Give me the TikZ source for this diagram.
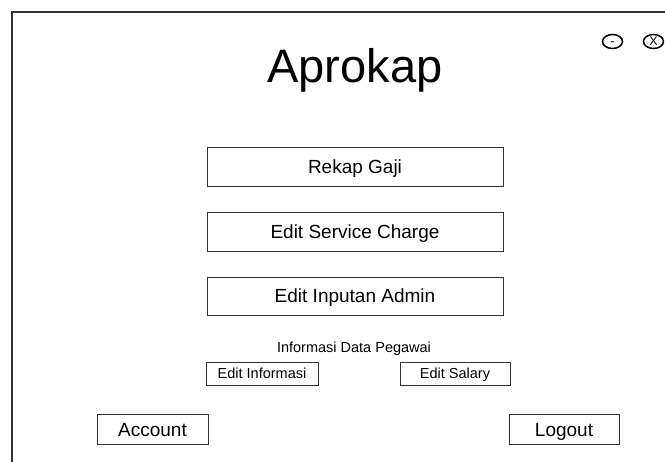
\documentclass[tikz,border=0pt]{standalone}
\usepackage{fontspec}
\setmainfont{Liberation Sans}
\usetikzlibrary{shapes.geometric}
\begin{document}
\begin{tikzpicture}[x=1pt,y=-1pt,
  btn/.style={draw=black!80,line width=0.9pt,minimum height=#1,inner sep=0pt,text depth=0pt},
  bigtxt/.style={font=\fontsize{19}{19}\selectfont,text height=13.6pt},
  smalltxt/.style={font=\fontsize{14.5}{14.5}\selectfont,text height=10.4pt},
  frameline/.style={draw=black!80,line width=2pt},
  winbtn/.style={draw=black,line width=1.5pt,ellipse,minimum width=20pt,minimum height=14pt,inner sep=0pt,text height=9pt,text depth=0pt,font=\fontsize{12.5}{12.5}\selectfont}]
\useasboundingbox (0,0) rectangle (665,462);
\fill[white] (0,0) rectangle (665,462);
\coordinate (fbl) at (12,462);
\coordinate (ftl) at (12,12);
\coordinate (ftr) at (665,12);
\draw[frameline] (fbl) -- (ftl) -- (ftr);
\node[winbtn] (min) at (612.5,41.5) {-};
\begin{scope}
\clip (0,0) rectangle (665,462);
\node[winbtn] (close) at (653.5,41.5) {X};
\end{scope}
\node[font=\fontsize{47}{47}\selectfont,anchor=base] (title) at (355,83) {Aprokap};
\node[btn=39pt,minimum width=296pt,bigtxt] (rekap) at (355,166.5) {Rekap Gaji};
\node[btn=39pt,minimum width=296pt,bigtxt] (service) at (355,231.5) {Edit Service Charge};
\node[btn=38pt,minimum width=296pt,bigtxt] (inputan) at (355,296) {Edit Inputan Admin};
\node[font=\fontsize{14.5}{14.5}\selectfont,anchor=base] (info) at (354,353) {Informasi Data Pegawai};
\node[btn=23pt,minimum width=112pt,smalltxt] (editinfo) at (262,373.5) {Edit Informasi};
\node[btn=23pt,minimum width=110pt,smalltxt] (editsal) at (455,373.5) {Edit Salary};
\node[btn=30pt,minimum width=111pt,bigtxt] (account) at (152.5,429.5) {Account};
\node[btn=30pt,minimum width=110pt,bigtxt] (logout) at (564,429.5) {Logout};
\end{tikzpicture}
\end{document}
